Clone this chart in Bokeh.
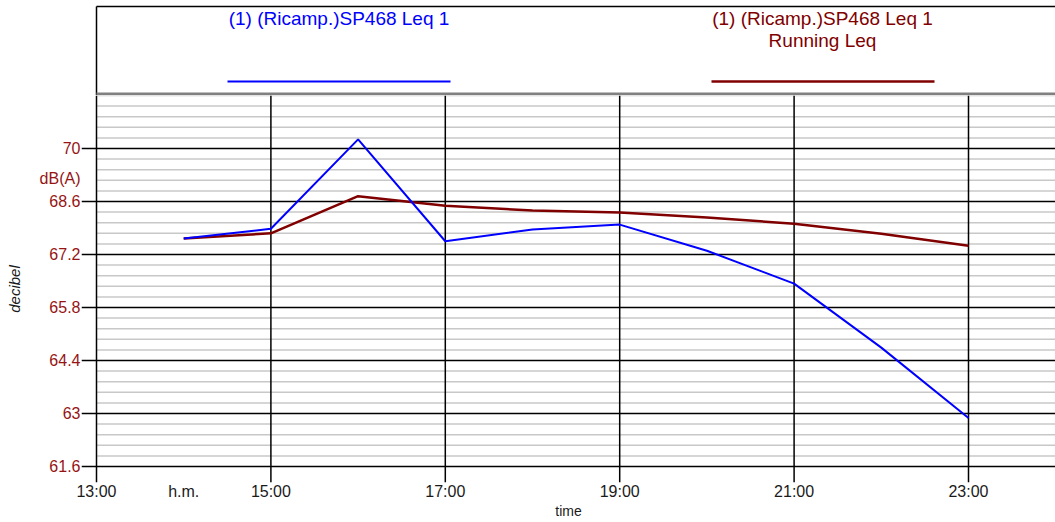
from bokeh.plotting import figure
from bokeh.models import FixedTicker, Range1d
from bokeh.layouts import column
from bokeh.embed import file_html
from bokeh.resources import INLINE
from bokeh.core.properties import value

# ---- data ----
hours = [14, 15, 16, 17, 18, 19, 20, 21, 22, 23]
leq = [67.62, 67.88, 70.24, 67.55, 67.86, 67.99, 67.30, 66.43, 64.74, 62.88]
running_leq = [67.62, 67.76, 68.74, 68.49, 68.36, 68.31, 68.18, 68.01, 67.75, 67.43]

x_ticks = [13, 15, 17, 19, 21, 23]
x_tick_labels = ["13:00", "15:00", "17:00", "19:00", "21:00", "23:00"]
x_unit_pos = 14
x_unit_label = "h.m."
y_ticks = [61.6, 63.0, 64.4, 65.8, 67.2, 68.6, 70.0]
y_tick_labels = ["61.6", "63", "64.4", "65.8", "67.2", "68.6", "70"]
y_unit_pos = 69.21
y_unit_label = "dB(A)"
y_minor_step = 0.28
y_top = 71.4

legend_blue = ["(1) (Ricamp.)SP468 Leq 1"]
legend_red = ["(1) (Ricamp.)SP468 Leq 1", "Running Leq"]

BLUE = "#0000ff"
RED = "#800000"
LABEL_RED = "#961414"
TXT = "#1a1a1a"
FONT = "Liberation Sans"

W = 1055
LH = 95            # legend panel height
FL = 81            # frame left (page px)
AX = 96            # axis position (page px)
PX_H = 87.2        # px per hour
PX_DB = 371 / 9.8  # px per dB

# ---- legend panel ----
lg = figure(width=W, height=LH, x_range=Range1d(FL, W), y_range=Range1d(LH, 0),
            output_backend="svg", toolbar_location=None,
            x_axis_location=None, y_axis_location=None,
            min_border_left=FL, min_border_right=0,
            min_border_top=0, min_border_bottom=0)
lg.outline_line_color = None
lg.xgrid.visible = False
lg.ygrid.visible = False
lg.background_fill_color = "white"
lg.border_fill_color = "white"

lg.segment(x0=[AX], y0=[6], x1=[W], y1=[6], line_color="black", line_width=1.5)
lg.segment(x0=[AX], y0=[6], x1=[AX], y1=[LH], line_color="black", line_width=1.5)
lg.quad(left=[AX], right=[W], top=[92], bottom=[95], fill_color="#808080", line_color=None)

for i, t in enumerate(legend_blue):
    lg.text(x=[338.5], y=[18 + 22 * i], text=[t], text_color=BLUE,
            text_font=value(FONT), text_font_size="19px",
            text_align="center", text_baseline="middle")
for i, t in enumerate(legend_red):
    lg.text(x=[822], y=[18 + 22 * i], text=[t], text_color=RED,
            text_font=value(FONT), text_font_size="19px",
            text_align="center", text_baseline="middle")
lg.line(x=[227, 450], y=[81, 81], line_color=BLUE, line_width=2)
lg.line(x=[711, 934], y=[81, 81], line_color=RED, line_width=2.5)

# ---- main plot ----
x_start = x_ticks[0] - (AX - FL) / PX_H
x_end = x_ticks[0] + (W - AX) / PX_H
y_start = y_ticks[0] - 16 / PX_DB

p = figure(width=W, height=522 - LH,
           x_range=Range1d(x_start, x_end), y_range=Range1d(y_start, y_top),
           output_backend="svg", toolbar_location=None,
           min_border_left=FL, min_border_right=0, min_border_top=0, min_border_bottom=40)
p.outline_line_color = None
p.background_fill_color = "white"
p.border_fill_color = "white"

xa = p.xaxis[0]
xa.ticker = FixedTicker(ticks=sorted(x_ticks + [x_unit_pos]))
ov = dict(zip(x_ticks, x_tick_labels))
ov[x_unit_pos] = x_unit_label
xa.major_label_overrides = ov
xa.minor_tick_line_color = None
xa.major_tick_line_color = None
xa.major_tick_in = 0
xa.major_tick_out = 0
xa.axis_line_color = None
xa.major_label_text_font = FONT
xa.major_label_text_font_size = "16px"
xa.major_label_text_color = TXT
xa.major_label_standoff = 0
xa.axis_label = "time"
xa.axis_label_text_font = FONT
xa.axis_label_text_font_style = "normal"
xa.axis_label_text_font_size = "14px"
xa.axis_label_text_color = TXT
xa.axis_label_standoff = 0

ya = p.yaxis[0]
ya.ticker = FixedTicker(ticks=sorted(y_ticks + [y_unit_pos]))
ovy = dict(zip(y_ticks, y_tick_labels))
ovy[y_unit_pos] = y_unit_label
ya.major_label_overrides = ovy
ya.minor_tick_line_color = None
ya.major_tick_line_color = None
ya.major_tick_in = 0
ya.major_tick_out = 0
ya.axis_line_color = None
ya.major_label_text_font = FONT
ya.major_label_text_font_size = "16px"
ya.major_label_text_color = LABEL_RED
ya.major_label_standoff = 1
ya.axis_label = "decibel"
ya.axis_label_text_font = FONT
ya.axis_label_text_font_style = "italic"
ya.axis_label_text_font_size = "15px"
ya.axis_label_text_color = TXT
ya.axis_label_standoff = 14

p.xgrid.visible = False
p.ygrid.ticker = FixedTicker(ticks=y_ticks)
p.ygrid.grid_line_color = "black"
p.ygrid.grid_line_width = 1.5

# minor horizontal lines (between x_ticks[0] and right edge)
n_minor = int(round((y_top - y_ticks[0]) / y_minor_step)) + 1
y_minor = [y_ticks[0] + y_minor_step * k for k in range(n_minor)]
y_minor = [y for y in y_minor if min(abs(y - t) for t in y_ticks) > 1e-6]
p.segment(x0=[x_ticks[0]] * len(y_minor), x1=[x_end] * len(y_minor),
          y0=y_minor, y1=y_minor, line_color="#c8c8c8", line_width=1.5)

# vertical hour lines, drawn over the minor lines (they continue down as ticks)
p.segment(x0=x_ticks, x1=x_ticks, y0=[y_start] * len(x_ticks), y1=[y_top] * len(x_ticks),
          line_color="black", line_width=1.5)

p.line(hours, running_leq, line_color=RED, line_width=2.5)
p.line(hours, leq, line_color=BLUE, line_width=2)

layout = column(lg, p, spacing=0)
open("out.html", "w").write(file_html(layout, INLINE))
